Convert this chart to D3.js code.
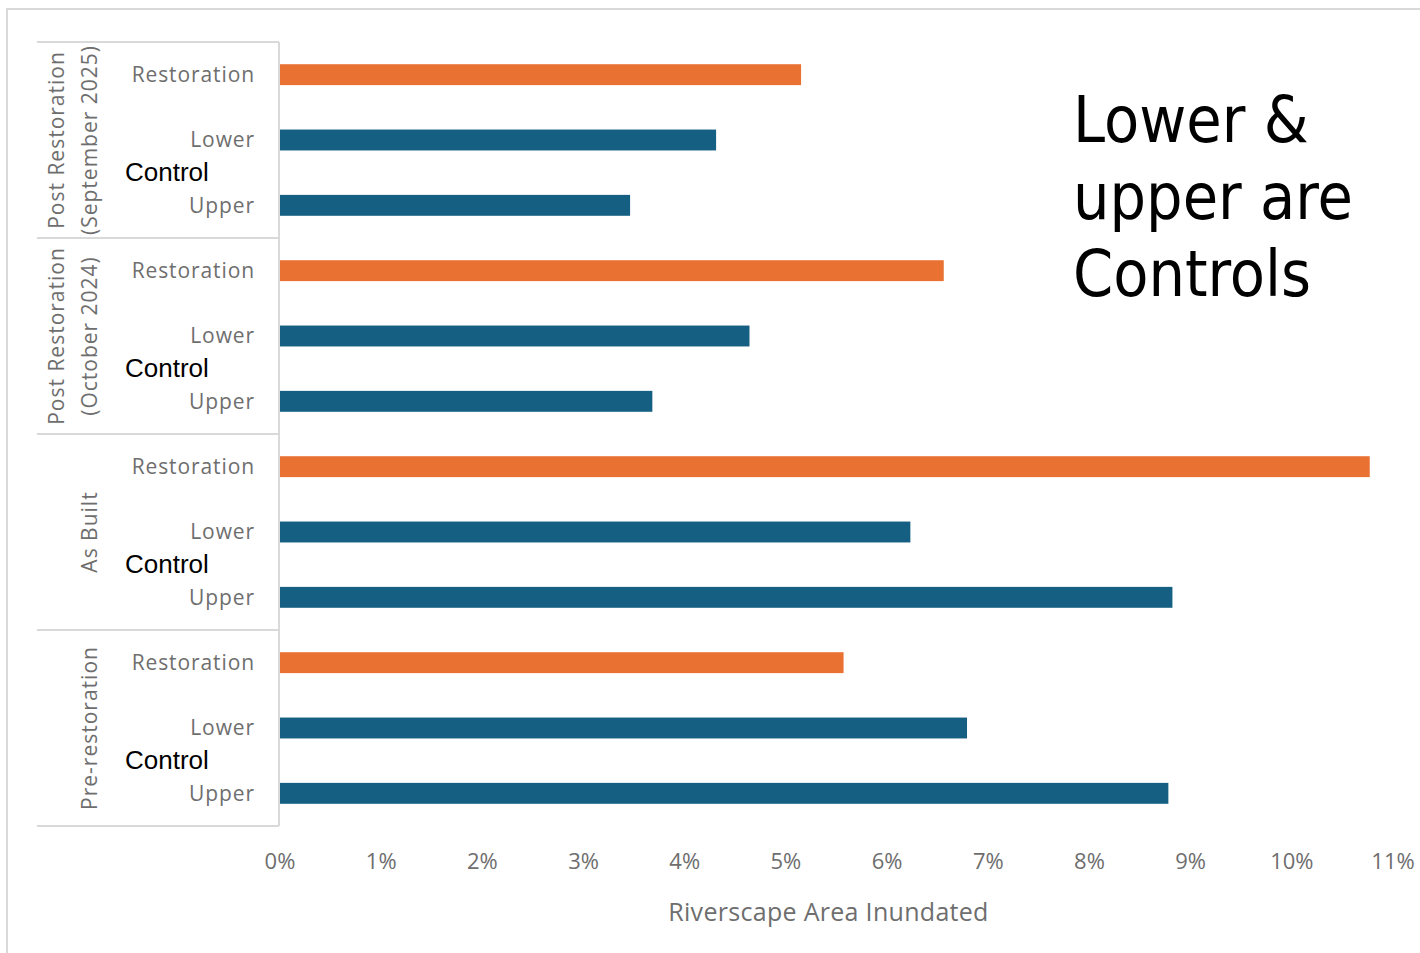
<!DOCTYPE html>
<html>
<head>
<meta charset="utf-8">
<script src="https://cdn.jsdelivr.net/npm/d3@7"></script>
<style>
  body { margin: 0; background: #fff; }
  svg { display: block; }
  .tick-label, .cat-label, .group-label, .axis-title { fill: #6e6e6e; font-family: "Open Sans", sans-serif; }
</style>
</head>
<body>
<svg width="1420" height="953"></svg>
<script>
// chart data (percent of riverscape area inundated)
let groups = ["Post Restoration|(September 2025)", "Post Restoration|(October 2024)", "As Built", "Pre-restoration"];
let sites = ["Restoration", "Lower", "Upper"];
let restoration = [5.15, 6.56, 10.77, 5.57];
let lowerControl = [4.31, 4.64, 6.23, 6.79];
let upperControl = [3.46, 3.68, 8.82, 8.78];
let xTicks = [0, 1, 2, 3, 4, 5, 6, 7, 8, 9, 10, 11];
let note = ["Lower &", "upper are", "Controls"];

/******************/

let colors = {Restoration: "#E97132", Lower: "#156082", Upper: "#156082"};

let rows = [];
groups.forEach((g, i) => {
  rows.push({group: g, site: sites[0], value: restoration[i]});
  rows.push({group: g, site: sites[1], value: lowerControl[i]});
  rows.push({group: g, site: sites[2], value: upperControl[i]});
});

let margin = {top: 42, left: 280, right: 27, bottom: 127};
let W = 1420, H = 953;

let xScale = d3.scaleLinear()
  .domain([0, 11])
  .range([margin.left, W - margin.right]);

let yScale = d3.scaleBand()
  .domain(rows.map(d => d.group + "/" + d.site))
  .range([margin.top, H - margin.bottom])
  .paddingInner(0.68)
  .paddingOuter(0.34);

let step = yScale.step();

let svg = d3.select("svg");

// outer chart border
svg.append("rect")
  .attr("x", 7).attr("y", 9)
  .attr("width", W).attr("height", H)
  .attr("fill", "none")
  .attr("stroke", "#d9d9d9")
  .attr("stroke-width", 2);

// bars
svg.selectAll(".bar")
  .data(rows)
  .enter().append("rect")
  .attr("class", "bar")
  .attr("x", xScale(0))
  .attr("y", d => yScale(d.group + "/" + d.site))
  .attr("width", d => xScale(d.value) - xScale(0))
  .attr("height", yScale.bandwidth())
  .attr("fill", d => colors[d.site]);

// category axis line + group separators
let gridColor = "#d9d9d9";
let y0 = yScale.range()[0], y1 = yScale.range()[1];
svg.append("line")
  .attr("x1", xScale(0) - 1).attr("x2", xScale(0) - 1)
  .attr("y1", y0).attr("y2", y1)
  .attr("stroke", gridColor).attr("stroke-width", 2);

let groupBounds = groups.map(g => yScale(g + "/Restoration") - step * 0.34);
groupBounds.push(y1);
svg.selectAll(".sep")
  .data(groupBounds)
  .enter().append("line")
  .attr("x1", 37).attr("x2", xScale(0) - 1)
  .attr("y1", d => d).attr("y2", d => d)
  .attr("stroke", gridColor).attr("stroke-width", 2);

// category labels
svg.selectAll(".cat-label")
  .data(rows)
  .enter().append("text")
  .attr("class", "cat-label")
  .attr("x", 255)
  .attr("y", d => yScale(d.group + "/" + d.site) + yScale.bandwidth() / 2)
  .attr("dy", "0.35em")
  .attr("text-anchor", "end")
  .style("font-size", "21px")
  .style("letter-spacing", "0.9px")
  .text(d => d.site);

// "Control" overlay labels between Lower and Upper
svg.selectAll(".control-label")
  .data(groups)
  .enter().append("text")
  .attr("class", "control-label")
  .attr("x", 125)
  .attr("y", g => (yScale(g + "/Lower") + yScale(g + "/Upper")) / 2 + yScale.bandwidth() / 2 - 1)
  .attr("dy", "0.36em")
  .style("font-family", "'Liberation Sans', Arial, sans-serif")
  .style("font-size", "26px")
  .style("fill", "#000")
  .text("Control");

// group labels, rotated
groups.forEach((g, i) => {
  let lines = g.split("|");
  let cy = (groupBounds[i] + groupBounds[i + 1]) / 2;
  lines.forEach((ln, j) => {
    let cx = 89 - (lines.length - 1 - j) * 33;
    svg.append("text")
      .attr("class", "group-label")
      .attr("transform", `translate(${cx}, ${cy}) rotate(-90)`)
      .attr("text-anchor", "middle")
      .attr("dominant-baseline", "central")
      .style("font-size", "21px")
      .style("letter-spacing", "1px")
      .text(ln);
  });
});

// x axis tick labels
svg.selectAll(".tick-label")
  .data(xTicks)
  .enter().append("text")
  .attr("class", "tick-label")
  .attr("x", d => xScale(d))
  .attr("y", 861)
  .attr("dy", "0.35em")
  .attr("text-anchor", "middle")
  .style("font-size", "22px")
  .text(d => d + "%");

// x axis title
svg.append("text")
  .attr("class", "axis-title")
  .attr("x", (xScale(0) + xScale(11)) / 2 - 8)
  .attr("y", 912)
  .attr("dy", "0.35em")
  .attr("text-anchor", "middle")
  .style("font-size", "25px")
  .style("letter-spacing", "0.3px")
  .text("Riverscape Area Inundated");

// annotation
svg.selectAll(".note")
  .data(note)
  .enter().append("text")
  .attr("class", "note")
  .attr("x", 1073)
  .attr("y", (d, i) => 142 + i * 77)
  .style("font-family", "'DejaVu Sans Condensed', 'DejaVu Sans', sans-serif")
  .style("font-size", "64px")
  .style("fill", "#000")
  .text(d => d);
</script>
</body>
</html>
